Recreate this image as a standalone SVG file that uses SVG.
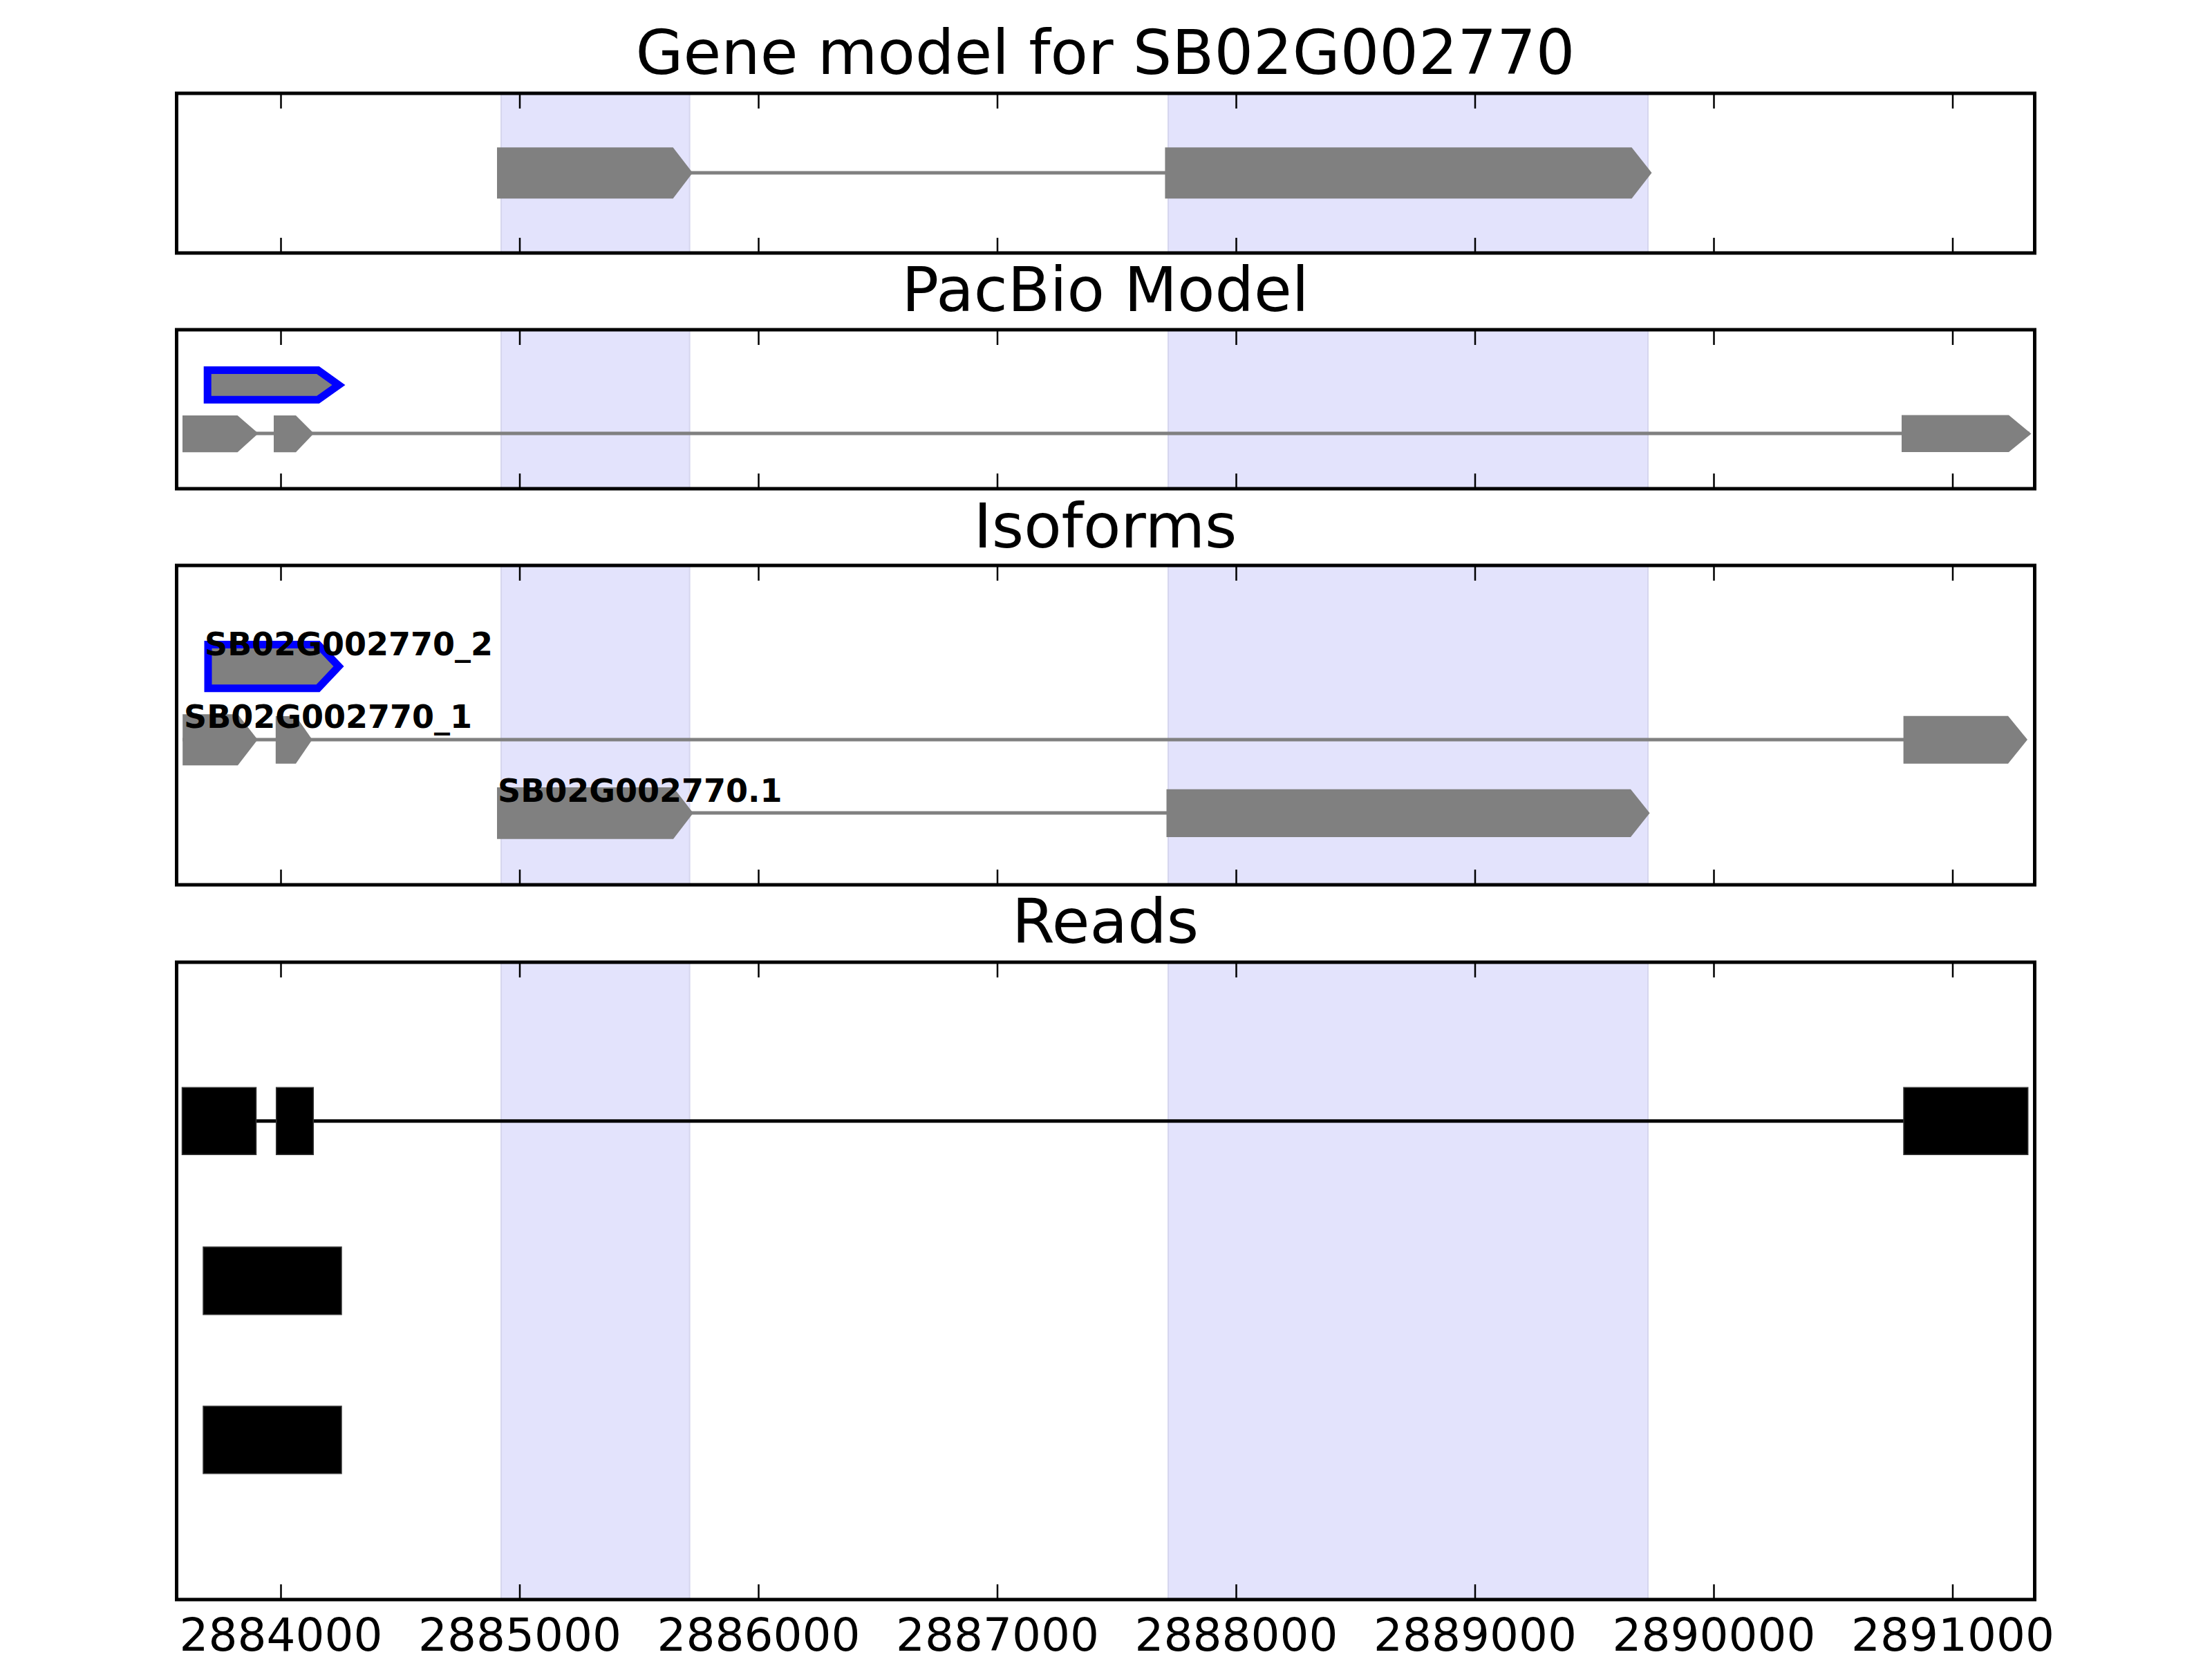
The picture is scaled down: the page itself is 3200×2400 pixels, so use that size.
<svg xmlns="http://www.w3.org/2000/svg" width="3200" height="2400" viewBox="0 0 3200 2400">
<style>
.title{font-family:"DejaVu Sans","Liberation Sans",sans-serif;font-size:89px;fill:#000;text-anchor:middle}
.tick-label{font-family:"DejaVu Sans","Liberation Sans",sans-serif;font-size:66px;fill:#000;text-anchor:middle}
.iso-label{font-family:"DejaVu Sans","Liberation Sans",sans-serif;font-size:46px;font-weight:bold;fill:#000}
.frame{fill:none;stroke:#000;stroke-width:5}
.shade{fill:#e3e3fc;stroke:#d6d6ee;stroke-width:2}
.tick{stroke:#000;stroke-width:2.5}
.exon{fill:#808080;stroke:none}
.exon-sel{fill:#808080;stroke:#0000ff;stroke-width:11;stroke-linejoin:miter}
.intron{stroke:#808080;stroke-width:5;fill:none}
.read{fill:#000;stroke:#333;stroke-width:1.5}
.read-line{stroke:#000;stroke-width:5;fill:none}
</style>
<defs>
<g id="ticks-top">
<path class="tick" d="M406.5 0v20M752 0v20M1097.5 0v20M1443 0v20M1788.5 0v20M2134 0v20M2479.5 0v20M2825 0v20"/>
</g>
<g id="ticks-bottom">
<path class="tick" d="M406.5 0v-20M752 0v-20M1097.5 0v-20M1443 0v-20M1788.5 0v-20M2134 0v-20M2479.5 0v-20M2825 0v-20"/>
</g>
</defs>
<rect x="0" y="0" width="3200" height="2400" fill="#fff"/>

<!-- Panel 1: Gene model -->
<g id="panel-gene">
<text class="title" x="1599" y="107">Gene model for SB02G002770</text>
<rect class="shade" x="725" y="135" width="272.6" height="231"/>
<rect class="shade" x="1690" y="135" width="694" height="231"/>
<use href="#ticks-top" y="137"/>
<use href="#ticks-bottom" y="364"/>
</g>

<!-- Panel 2: PacBio -->
<g id="panel-pacbio">
<text class="title" x="1599" y="450">PacBio Model</text>
<rect class="shade" x="725" y="477" width="272.6" height="230"/>
<rect class="shade" x="1690" y="477" width="694" height="230"/>
<use href="#ticks-top" y="479"/>
<use href="#ticks-bottom" y="705"/>
</g>

<!-- Panel 3: Isoforms -->
<g id="panel-isoforms">
<text class="title" x="1599" y="792">Isoforms</text>
<rect class="shade" x="725" y="818" width="272.6" height="462"/>
<rect class="shade" x="1690" y="818" width="694" height="462"/>
<use href="#ticks-top" y="820"/>
<use href="#ticks-bottom" y="1278"/>
</g>

<!-- Panel 4: Reads -->
<g id="panel-reads">
<text class="title" x="1599" y="1364">Reads</text>
<rect class="shade" x="725" y="1392" width="272.6" height="922"/>
<rect class="shade" x="1690" y="1392" width="694" height="922"/>
<use href="#ticks-top" y="1394"/>
<use href="#ticks-bottom" y="2312"/>
<text class="tick-label" x="406.5" y="2388">2884000</text>
<text class="tick-label" x="752" y="2388">2885000</text>
<text class="tick-label" x="1097.5" y="2388">2886000</text>
<text class="tick-label" x="1443" y="2388">2887000</text>
<text class="tick-label" x="1788.5" y="2388">2888000</text>
<text class="tick-label" x="2134" y="2388">2889000</text>
<text class="tick-label" x="2479.5" y="2388">2890000</text>
<text class="tick-label" x="2825" y="2388">2891000</text>
</g>

<!-- Connectors (introns / read links) -->
<g id="connectors">
<line class="intron" x1="1000" y1="250" x2="1686" y2="250"/>
<line class="intron" x1="264" y1="627" x2="2936" y2="627"/>
<line class="intron" x1="264" y1="1070" x2="2931" y2="1070"/>
<line class="intron" x1="1000" y1="1176" x2="1688" y2="1176"/>
<line class="read-line" x1="264" y1="1621.7" x2="2933" y2="1621.7"/>
</g>

<!-- Gene model exons -->
<g id="gene-SB02G002770">
<polygon class="exon" points="719,213.3 973.6,213.3 1002,250 973.6,287.3 719,287.3"/>
<polygon class="exon" points="1685.4,213.3 2360.5,213.3 2389.5,250 2360.5,287.3 1685.4,287.3"/>
</g>

<!-- PacBio model -->
<g id="pacbio-model-2">
<polygon class="exon-sel" points="300.2,535.5 460,535.5 490,557 460,578.3 300.2,578.3"/>
</g>
<g id="pacbio-model-1">
<polygon class="exon" points="264,601 343.6,601 373.7,627 343.6,654.3 264,654.3"/>
<polygon class="exon" points="396,601 428,601 454,627 428,654.3 396,654.3"/>
<polygon class="exon" points="2751,600.6 2906,600.6 2938.5,627.5 2906,654 2751,654"/>
</g>

<!-- Isoforms -->
<g id="isoform-SB02G002770_2">
<polygon class="exon-sel" points="301,932.5 460,932.5 490,964 460,995.8 301,995.8"/>
<text class="iso-label" x="296" y="947.7">SB02G002770_2</text>
</g>
<g id="isoform-SB02G002770_1">
<polygon class="exon" points="264.2,1033.3 344,1033.3 372.7,1070 344,1107.3 264.2,1107.3"/>
<polygon class="exon" points="398.8,1036 428,1036 451.7,1070 428,1104.7 398.8,1104.7"/>
<polygon class="exon" points="2753.6,1035.7 2905,1035.7 2933,1070 2905,1104.7 2753.6,1104.7"/>
<text class="iso-label" x="266" y="1053.3">SB02G002770_1</text>
</g>
<g id="isoform-SB02G002770.1">
<polygon class="exon" points="719,1139 974,1139 1002.8,1176.3 974,1213.7 719,1213.7"/>
<polygon class="exon" points="1687.5,1141.7 2359,1141.7 2386.6,1176.3 2359,1211 1687.5,1211"/>
<text class="iso-label" x="720" y="1160">SB02G002770.1</text>
</g>

<!-- Reads -->
<g id="read-1">
<rect class="read" x="263.5" y="1573.3" width="107" height="97"/>
<rect class="read" x="399.7" y="1573.3" width="53.6" height="97"/>
<rect class="read" x="2754" y="1573.3" width="179.7" height="97"/>
</g>
<g id="read-2">
<rect class="read" x="294" y="1804" width="200" height="97.7"/>
</g>
<g id="read-3">
<rect class="read" x="294" y="2034.3" width="200" height="97.4"/>
</g>

<!-- Frames on top -->
<g id="frames">
<rect class="frame" x="255.5" y="135" width="2688" height="231"/>
<rect class="frame" x="255.5" y="477" width="2688" height="230"/>
<rect class="frame" x="255.5" y="818" width="2688" height="462"/>
<rect class="frame" x="255.5" y="1392" width="2688" height="922"/>
</g>
</svg>
